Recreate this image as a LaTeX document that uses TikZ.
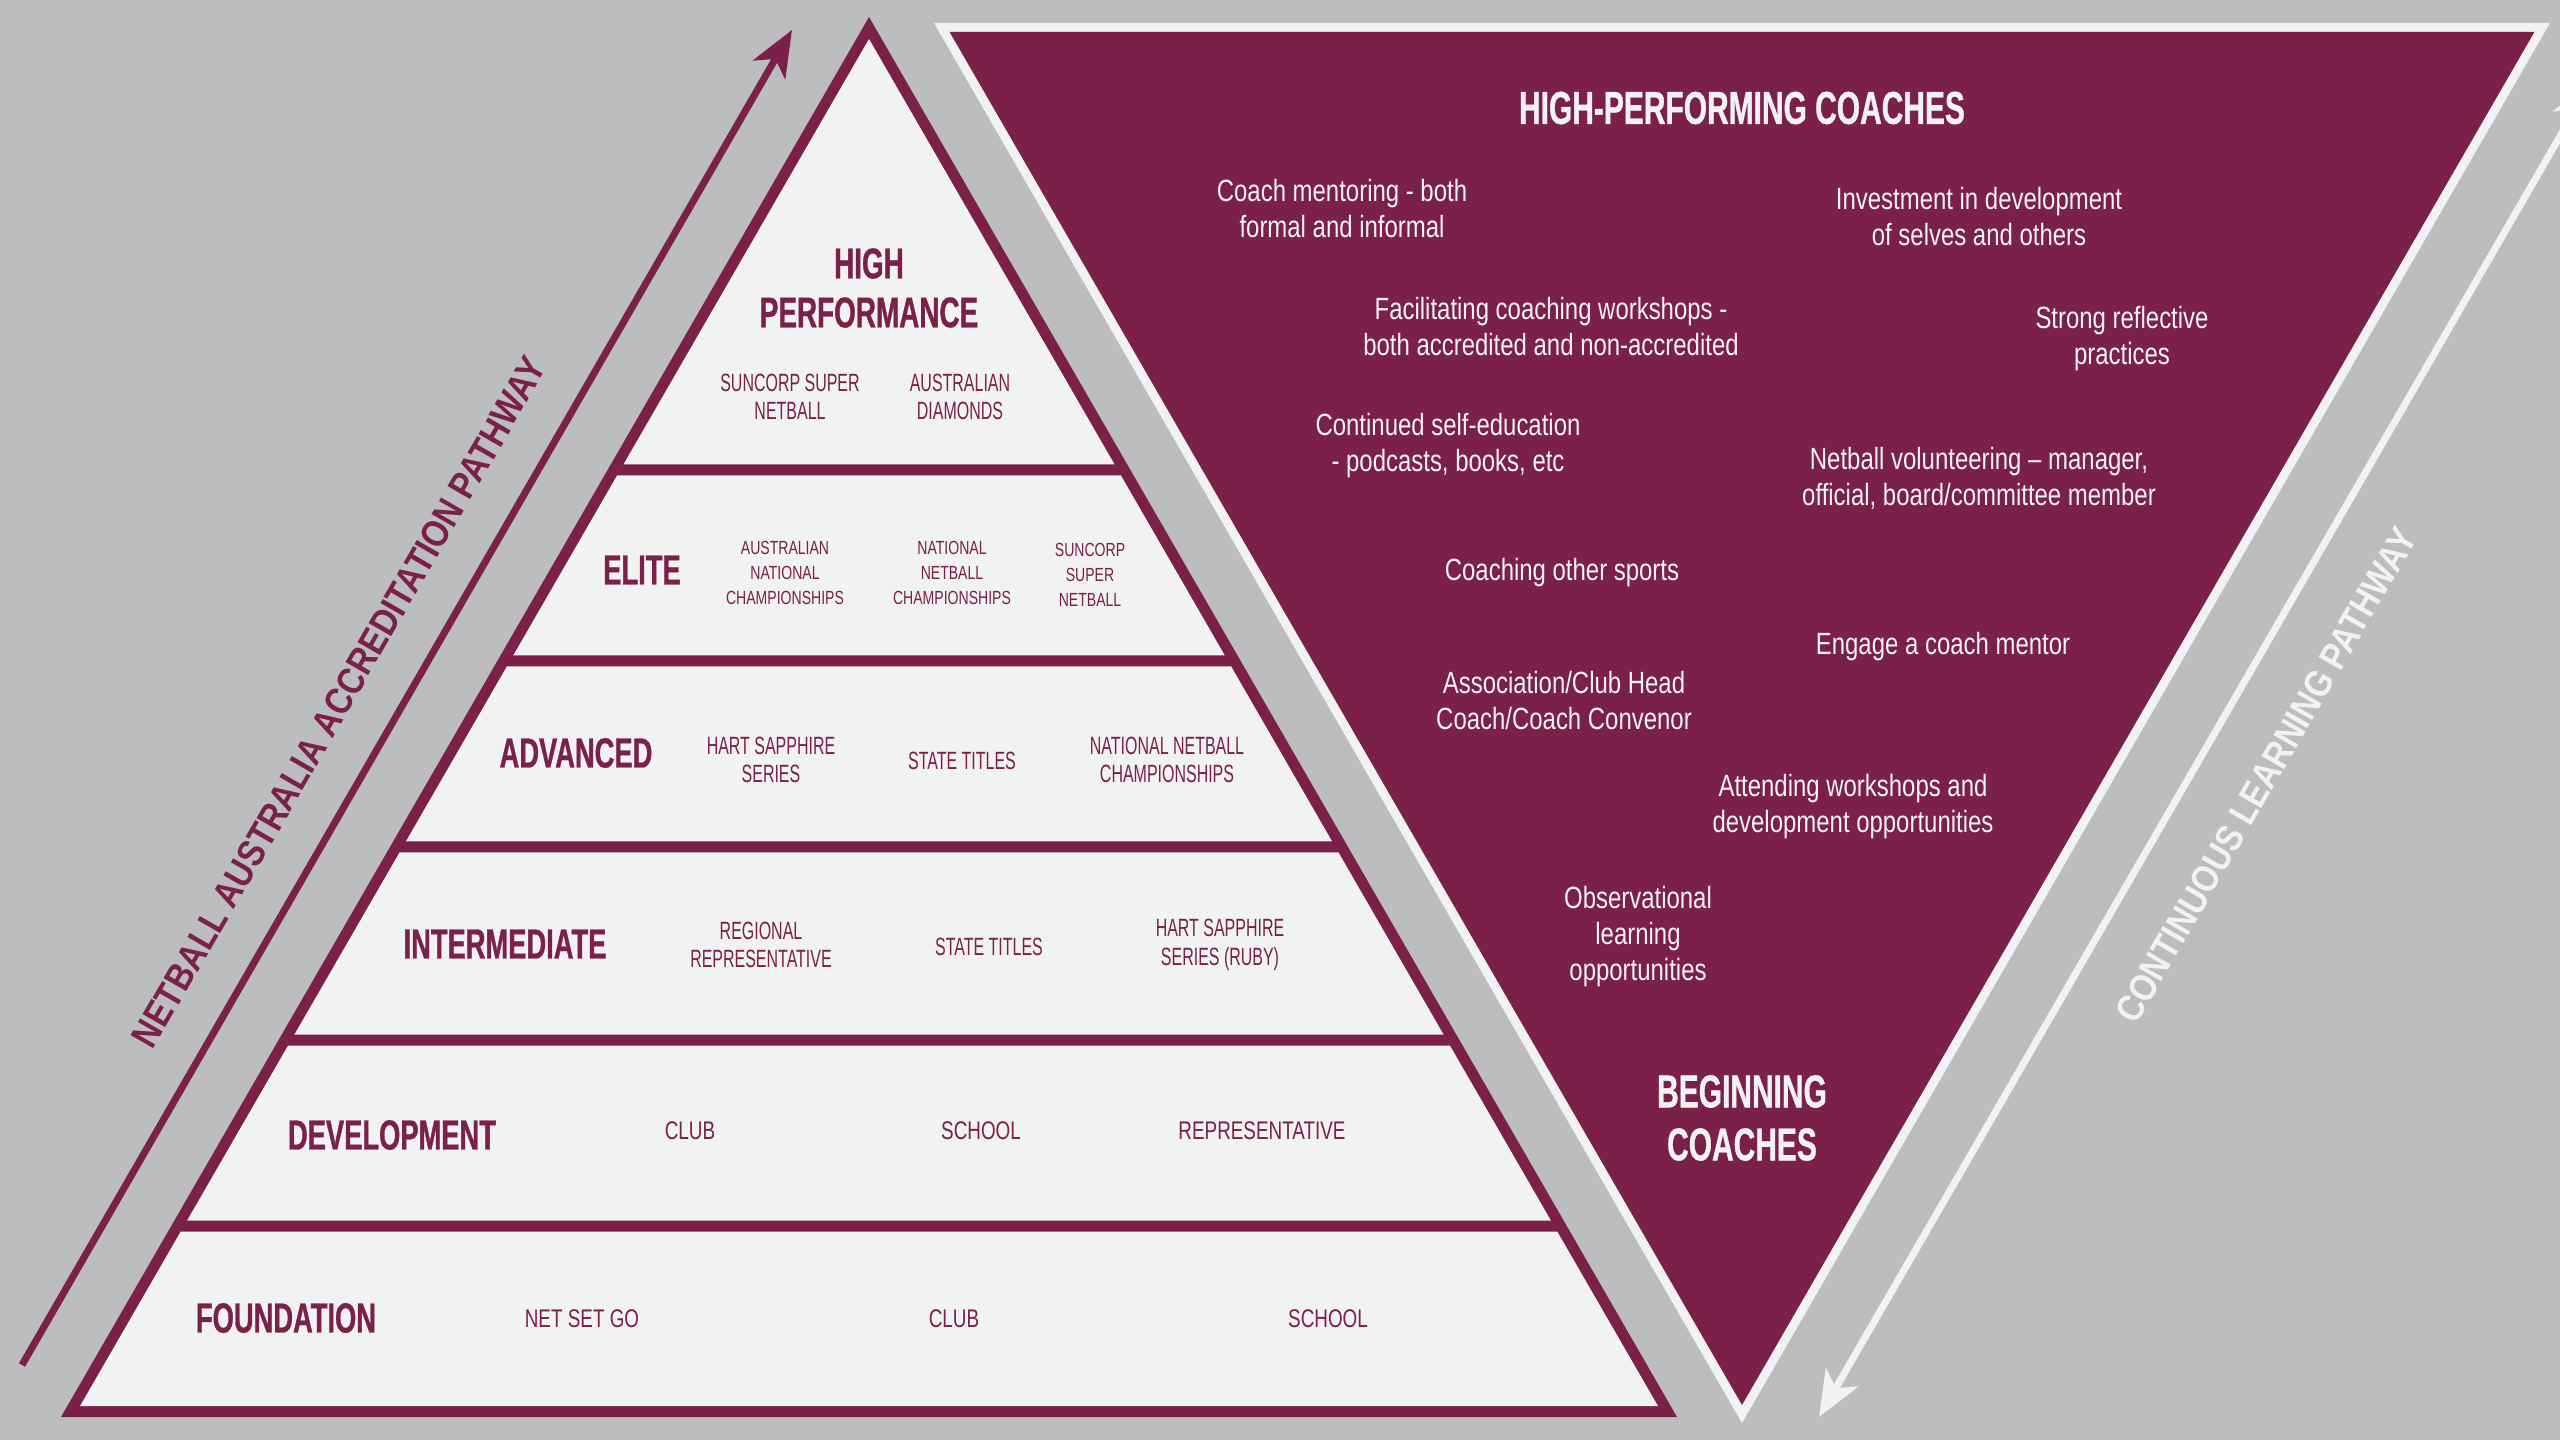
\documentclass[tikz,border=0pt]{standalone}
\usepackage{fontspec}
\setmainfont{Liberation Sans}
\newfontfamily\lfont{Liberation Sans}[FakeStretch=0.65,FakeBold=0.8]
\newfontfamily\sfont{Liberation Sans}[FakeStretch=0.74]
\newfontfamily\tfont{Liberation Sans}[FakeStretch=0.64]
\newfontfamily\wfont{Liberation Sans}[FakeStretch=0.78]
\newfontfamily\rfont{Liberation Sans}[FakeStretch=0.86]
\usetikzlibrary{arrows.meta}
\definecolor{nmaroon}{RGB}{123,32,72}
\definecolor{nbg}{RGB}{188,189,191}
\definecolor{nlight}{RGB}{241,242,242}
\begin{document}
\begin{tikzpicture}[x=0.01cm,y=-0.01cm,
  lvl/.style={inner sep=0pt,text=nmaroon,font=\lfont\bfseries\fontsize{11.95pt}{14pt}\selectfont},
  hplbl/.style={inner sep=0pt,text=nmaroon,align=center,font=\lfont\bfseries\fontsize{12.2pt}{13.94pt}\selectfont},
  item/.style={inner sep=0pt,text=nmaroon,align=center,font=\sfont\fontsize{7.25pt}{8.1pt}\selectfont},
  titem/.style={inner sep=0pt,text=nmaroon,align=center,font=\tfont\fontsize{7.1pt}{8.1pt}\selectfont},
  eitem/.style={inner sep=0pt,text=nmaroon,align=center,font=\sfont\fontsize{5.4pt}{7.11pt}\selectfont},
  whead/.style={inner sep=0pt,text=nlight,align=center,font=\lfont\bfseries\fontsize{13.1pt}{15.08pt}\selectfont},
  wtxt/.style={inner sep=0pt,text=nlight,align=center,font=\wfont\fontsize{8.73pt}{10.24pt}\selectfont},
  rtxt/.style={inner sep=0pt,rotate=60,font=\rfont\bfseries\fontsize{10.8pt}{12pt}\selectfont},
  patharrow/.style={line width=2pt,-{Stealth[length=13pt,width=10.5pt,inset=3.5pt]}}
]
\useasboundingbox (0,0) rectangle (2560,1440);
\clip (0,0) rectangle (2560,1440);
\fill[nbg] (0,0) rectangle (2560,1440);

% ---------- pyramid ----------
\fill[nmaroon] (869,17) -- (1677,1417) -- (61,1417) -- cycle;
\foreach \ya/\yb in {39/464.5,475.5/655.5,666.5/841.5,852.5/1034.5,1045.5/1220.5,1231.5/1406}{
  \pgfmathsetmacro\xla{881.7-0.57714*(\ya-17)}
  \pgfmathsetmacro\xra{856.3+0.57714*(\ya-17)}
  \pgfmathsetmacro\xlb{881.7-0.57714*(\yb-17)}
  \pgfmathsetmacro\xrb{856.3+0.57714*(\yb-17)}
  \fill[nlight] (\xla,\ya) -- (\xra,\ya) -- (\xrb,\yb) -- (\xlb,\yb) -- cycle;
}

% ---------- inverted triangle ----------
\fill[nlight] (934,23) -- (2550,23) -- (1742,1423) -- cycle;
\fill[nmaroon] (949.6,32) -- (2534.4,32) -- (1742,1405) -- cycle;

% ---------- arrows ----------
\coordinate (la0) at (22,1365);
\coordinate (la1) at (792,30);
\draw[patharrow,nmaroon] (la0) -- (la1);
\coordinate (ra0) at (2592,81);
\coordinate (ra1) at (1819,1417);
\draw[patharrow,nlight,{Stealth[length=13pt,width=10.5pt,inset=3.5pt]}-{Stealth[length=13pt,width=10.5pt,inset=3.5pt]}] (ra0) -- (ra1);

\node[rtxt,text=nmaroon] (lpath) at (339,702) {NETBALL AUSTRALIA ACCREDITATION PATHWAY};
\node[rtxt,text=nlight] (rpath) at (2266,775) {CONTINUOUS LEARNING PATHWAY};

% ---------- pyramid texts ----------
\node[hplbl] (hp) at (869,288) {HIGH\\PERFORMANCE};
\node[titem] (hp1) at (790,397) {SUNCORP SUPER\\NETBALL};
\node[titem] (hp2) at (960,397) {AUSTRALIAN\\DIAMONDS};

\node[lvl] (elite) at (642,570) {ELITE};
\node[eitem] (el1) at (785,573) {AUSTRALIAN\\NATIONAL\\CHAMPIONSHIPS};
\node[eitem] (el2) at (952,573) {NATIONAL\\NETBALL\\CHAMPIONSHIPS};
\node[eitem] (el3) at (1090,575) {SUNCORP\\SUPER\\NETBALL};

\node[lvl] (adv) at (576,753) {ADVANCED};
\node[titem] (ad1) at (771,760) {HART SAPPHIRE\\SERIES};
\node[titem] (ad2) at (962,761) {STATE TITLES};
\node[titem] (ad3) at (1167,760) {NATIONAL NETBALL\\CHAMPIONSHIPS};

\node[lvl] (inter) at (505,944) {INTERMEDIATE};
\node[titem] (in1) at (761,945) {REGIONAL\\REPRESENTATIVE};
\node[titem] (in2) at (989,947) {STATE TITLES};
\node[titem] (in3) at (1220,945) {HART SAPPHIRE\\SERIES (RUBY)};

\node[lvl] (dev) at (392,1135) {DEVELOPMENT};
\node[item] (dv1) at (690,1131) {CLUB};
\node[item] (dv2) at (981,1131) {SCHOOL};
\node[item] (dv3) at (1262,1131) {REPRESENTATIVE};

\node[lvl] (fnd) at (286,1318) {FOUNDATION};
\node[item] (fn1) at (582,1319) {NET SET GO};
\node[item] (fn2) at (954,1319) {CLUB};
\node[item] (fn3) at (1328,1319) {SCHOOL};

% ---------- inverted triangle texts ----------
\node[whead] (hpc) at (1742,108) {HIGH-PERFORMING COACHES};
\node[wtxt] (t1) at (1342,209) {Coach mentoring - both\\formal and informal};
\node[wtxt] (t2) at (1979,217) {Investment in development\\of selves and others};
\node[wtxt] (t3) at (1551,327) {Facilitating coaching workshops -\\both accredited and non-accredited};
\node[wtxt] (t4) at (2122,339) {Strong reflective\\practices};
\node[wtxt] (t5) at (1448,446) {Continued self-education\\- podcasts, books, etc};
\node[wtxt] (t6) at (1979,478) {Netball volunteering – manager,\\official, board/committee member};
\node[wtxt] (t7) at (1562,573) {Coaching other sports};
\node[wtxt] (t8) at (1943,647) {Engage a coach mentor};
\node[wtxt] (t9) at (1564,701) {Association/Club Head\\Coach/Coach Convenor};
\node[wtxt] (t10) at (1853,807) {Attending workshops and\\development opportunities};
\node[wtxt] (t11) at (1638,937) {Observational\\learning\\opportunities};
\node[whead] (beg) at (1742,1118) {BEGINNING\\COACHES};
\end{tikzpicture}
\end{document}
